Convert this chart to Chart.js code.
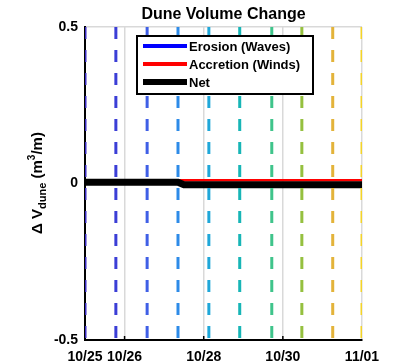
<!DOCTYPE html>
<html>
<head>
<meta charset="utf-8">
<script src="https://cdn.jsdelivr.net/npm/chart.js@4/dist/chart.umd.min.js"></script>
<style>
  body { margin: 0; background: #fff; }
  #wrap { width: 403px; height: 364px; }
</style>
</head>
<body>
<div id="wrap"><canvas id="chart" width="403" height="364"></canvas></div>
<script>
// Days since 10/25 on the x axis
const tickDays = [0, 1, 3, 5, 7];
const tickLabels = ["10/25", "10/26", "10/28", "10/30", "11/01"];

// Net / erosion / accretion (m^3/m)
const netDays = [0, 2.35, 2.5, 7];
const netValues = [0.004, 0.004, -0.004, -0.004];
const erosionDays = [0, 2.35, 2.5, 7];
const erosionValues = [0, 0, -0.008, -0.008];
const accretionDays = [0, 7];
const accretionValues = [0.01, 0.01];

// Dashed vertical markers
const markerDays = [0, 0.78, 1.57, 2.35, 3.13, 3.91, 4.72, 5.48, 6.26, 7.0];
const markerColors = ["#3b2dc2", "#3b3ed6", "#3f5fe6", "#2d8be8", "#1fa7d9",
                      "#17b5b6", "#3fc48b", "#95c03f", "#e3b33a", "#f4d428"];

const seriesLabels = ["Erosion (Waves)", "Accretion (Winds)", "Net"];
const seriesColors = ["#0000ff", "#ff0000", "#000000"];

function pts(xs, ys) {
  return xs.map((x, i) => ({ x: x, y: ys[i] }));
}

const FONT = "Liberation Sans, Arial, sans-serif";

// dashed lines go first so they are drawn on top
const markerSets = markerDays.map((d, i) => ({
  data: [{ x: d, y: 0.5 }, { x: d, y: -0.5 }],
  borderColor: markerColors[i],
  borderWidth: 3,
  borderDash: [12, 11],
  pointRadius: 0,
  borderCapStyle: "butt",
}));

const datasets = markerSets.concat([
  { label: seriesLabels[2], data: pts(netDays, netValues), borderColor: seriesColors[2], borderWidth: 7, pointRadius: 0 },
  { label: seriesLabels[1], data: pts(accretionDays, accretionValues), borderColor: seriesColors[1], borderWidth: 2.5, pointRadius: 0 },
  { label: seriesLabels[0], data: pts(erosionDays, erosionValues), borderColor: seriesColors[0], borderWidth: 2.5, pointRadius: 0 },
]);

// title, y label, inward ticks and legend box
const decorations = {
  id: "decorations",
  afterDraw(chart) {
    const c = chart.ctx;
    const area = chart.chartArea;
    const xs = chart.scales.x;

    c.save();
    c.fillStyle = "#000";
    c.textAlign = "center";
    c.textBaseline = "middle";
    c.font = "bold 16px " + FONT;
    c.fillText("Dune Volume Change", (area.left + area.right) / 2, 15);

    // inward tick marks
    c.strokeStyle = "#000";
    c.lineWidth = 1.5;
    tickDays.slice(1, 4).forEach(d => {
      const px = xs.getPixelForValue(d);
      c.beginPath();
      c.moveTo(px, area.bottom);
      c.lineTo(px, area.bottom - 4);
      c.stroke();
    });

    // y label with sub/superscript
    const parts = [
      { t: "\u0394 V", size: 15, dy: 0 },
      { t: "dune", size: 11, dy: 4 },
      { t: " (m", size: 15, dy: 0 },
      { t: "3", size: 10, dy: -7 },
      { t: "/m)", size: 15, dy: 0 },
    ];
    let total = 0;
    parts.forEach(p => {
      c.font = "bold " + p.size + "px " + FONT;
      p.w = c.measureText(p.t).width;
      total += p.w;
    });
    c.translate(42, 183);
    c.rotate(-Math.PI / 2);
    c.textAlign = "left";
    c.textBaseline = "alphabetic";
    let x = -total / 2;
    parts.forEach(p => {
      c.font = "bold " + p.size + "px " + FONT;
      c.fillText(p.t, x, p.dy);
      x += p.w;
    });
    c.restore();

    // legend
    c.save();
    c.fillStyle = "#fff";
    c.fillRect(137, 36, 176, 58);
    c.strokeStyle = "#000";
    c.lineWidth = 2;
    c.strokeRect(137, 36, 176, 58);
    const rows = [46, 64, 82];
    const widths = [4, 4, 6];
    c.font = "bold 13px " + FONT;
    c.textAlign = "left";
    c.textBaseline = "middle";
    seriesLabels.forEach((lab, i) => {
      c.strokeStyle = seriesColors[i];
      c.lineWidth = widths[i];
      c.beginPath();
      c.moveTo(143, rows[i]);
      c.lineTo(187, rows[i]);
      c.stroke();
      c.fillStyle = "#000";
      c.fillText(lab, 189, rows[i] + 1);
    });
    c.restore();
  }
};

new Chart(document.getElementById("chart"), {
  type: "line",
  data: { datasets: datasets },
  options: {
    responsive: false,
    animation: false,
    layout: { padding: { top: 27, right: 41, left: 0, bottom: 0 } },
    plugins: { legend: { display: false }, tooltip: { enabled: false }, title: { display: false } },
    scales: {
      x: {
        type: "linear",
        min: 0,
        max: 7,
        afterBuildTicks: s => { s.ticks = tickDays.map(v => ({ value: v })); },
        afterFit: s => { s.height = 24; },
        ticks: {
          color: "#000",
          font: { family: FONT, size: 14, weight: "bold" },
          padding: 9,
          maxRotation: 0,
          callback: v => tickLabels[tickDays.indexOf(v)],
        },
        grid: { color: "#d9d9d9", lineWidth: 1.5, drawTicks: false },
        border: { color: "#000", width: 2 },
      },
      y: {
        min: -0.5,
        max: 0.5,
        afterFit: s => { s.width = 85; },
        ticks: {
          stepSize: 0.5,
          color: "#000",
          font: { family: FONT, size: 14, weight: "bold" },
          padding: 7,
          callback: v => (v === 0 ? "0" : String(v)),
        },
        grid: { color: "#d9d9d9", lineWidth: 1.5, drawTicks: false },
        border: { color: "#000", width: 2 },
      },
    },
  },
  plugins: [decorations],
});
</script>
</body>
</html>
